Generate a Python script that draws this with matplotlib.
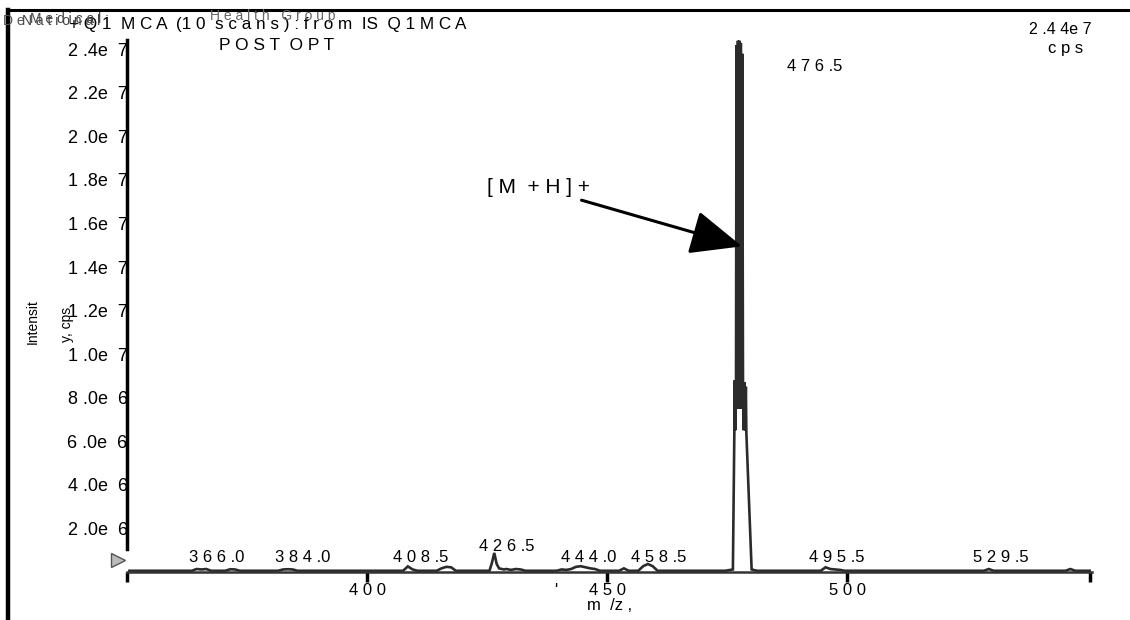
import matplotlib
matplotlib.use("Agg")
import matplotlib.pyplot as plt
from matplotlib.lines import Line2D

plt.rcParams["font.family"] = ["Liberation Sans", "DejaVu Sans"]

# spectrum trace (m/z, intensity in units of 1e6 cps)
mz = [350.5, 363.5, 364.5, 365.5, 366.5, 367.5, 370.5, 371.5, 372.5, 373.5,
      381.5, 382.5, 383.5, 384.5, 385.5, 407.5, 408.5, 409.5, 410.5, 414.5,
      415.5, 416.5, 417.5, 418.5, 425.5, 426.0, 426.5, 427.0, 427.5, 428.5,
      429.0, 430.0, 431.0, 432.0, 433.0, 439.5, 440.5, 441.5, 442.5, 443.5,
      444.5, 445.5, 446.5, 447.5, 448.5, 452.5, 453.5, 454.5, 456.5, 457.5,
      458.5, 459.5, 460.5,
      474.6, 476.2, 476.5, 476.6, 476.7, 476.85, 476.95, 477.1, 477.25, 477.4,
      477.55, 477.7, 477.85, 478.0, 478.15, 478.3, 478.45, 478.6, 478.75, 478.9,
      479.0, 480.1, 481.2,
      494.5, 495.5, 496.5, 497.5, 498.5, 499.5, 528.5, 529.5, 530.5, 545.5,
      546.5, 547.5, 550.5]
intensity = [0.04, 0.04, 0.12, 0.1, 0.12, 0.04, 0.04, 0.11, 0.1, 0.04,
             0.04, 0.1, 0.11, 0.1, 0.04, 0.04, 0.24, 0.1, 0.04, 0.04,
             0.15, 0.22, 0.2, 0.04, 0.04, 0.4, 0.86, 0.35, 0.15, 0.1,
             0.12, 0.08, 0.12, 0.1, 0.04, 0.04, 0.1, 0.08, 0.12, 0.22,
             0.25, 0.2, 0.15, 0.12, 0.04, 0.04, 0.15, 0.04, 0.04, 0.25,
             0.35, 0.25, 0.04,
             0.04, 0.1, 6.4, 8.8, 6.5, 8.6, 24.2, 7.5, 24.4, 7.5,
             24.4, 7.5, 24.3, 7.5, 23.8, 8.8, 6.5, 8.7, 6.5, 8.5,
             6.4, 0.1, 0.04,
             0.04, 0.2, 0.12, 0.1, 0.08, 0.04, 0.04, 0.12, 0.04, 0.04,
             0.12, 0.04, 0.04]

# peak labels
label_text = ["3 6 6 .0", "3 8 4 .0", "4 0 8 .5", "4 2 6 .5", "4 4 4 .0",
              "4 5 8 .5", "4 7 6 .5", "4 9 5 .5", "5 2 9 .5"]
label_mz = [368.6, 386.6, 411.2, 429.2, 446.2, 460.8, 493.3, 497.9, 532.1]
label_y = [0.67, 0.67, 0.67, 1.17, 0.67, 0.67, 23.2, 0.67, 0.67]

yticks = [2, 4, 6, 8, 10, 12, 14, 16, 18, 20, 22, 24]
ytick_labels = ["2 .0e  6", "4 .0e  6", "6 .0e  6", "8 .0e  6", "1 .0e  7", "1 .2e  7",
                "1 .4e  7", "1 .6e  7", "1 .8e  7", "2 .0e  7", "2 .2e  7", "2 .4e  7"]
xticks = [350, 400, 450, 500, 550.5]
xtick_labels = ["", "4 0 0", "4 5 0", "5 0 0", ""]

fig = plt.figure(figsize=(11.3, 6.2), dpi=100)
ax = fig.add_axes([127 / 1130, 0.078, 0.854, 0.857])

ax.plot(mz, [v * 1e6 for v in intensity], color="#2b2b2b", lw=1.9,
        solid_joinstyle="miter")

for t, x, y in zip(label_text, label_mz, label_y):
    ax.text(x, y * 1e6, t, ha="center", va="center", fontsize=12)

ax.annotate("[ M  + H ] +", xy=(478.1, 14.95e6), xytext=(446.5, 17.2e6),
            fontsize=15, ha="right", va="bottom",
            arrowprops=dict(arrowstyle="-|>,head_length=1.4,head_width=0.6",
                            mutation_scale=23, lw=2.2, color="black",
                            shrinkA=0, shrinkB=0))

ax.plot([348.1], [0.55e6], marker=">", ms=10, mfc="#bbbbbb", mec="#555555",
        clip_on=False)

ax.set_xlim(350, 551)
ax.set_ylim(0, 24.42e6)
ax.set_yticks([v * 1e6 for v in yticks])
ax.set_yticklabels(ytick_labels, fontsize=13)
ax.set_xticks(xticks)
ax.set_xticklabels(xtick_labels, fontsize=12)
ax.tick_params(axis="y", length=0, pad=-0.5)
ax.tick_params(axis="x", length=7, width=2.5, direction="out", pad=1)

for s in ["top", "right"]:
    ax.spines[s].set_visible(False)
ax.spines["left"].set_linewidth(2.5)
ax.spines["left"].set_bounds(1.05e6, 24.42e6)
ax.spines["bottom"].set_linewidth(1.8)
ax.spines["bottom"].set_color("#333333")

ax.text(450.6, -1.55e6, "m  /z ,", ha="center", va="center", fontsize=12)
ax.text(439.2, -0.85e6, "'", ha="center", va="center", fontsize=12)

# header texts
fig.text(69 / 1130, 1 - 25 / 620,
         "+ Q 1  M C A  (1 0  s c a n s ) : f r o m  IS  Q 1 M C A",
         fontsize=12.3, va="center")
fig.text(219 / 1130, 1 - 46 / 620, "P O S T  O P T", fontsize=12.5, va="center")
fig.text(3 / 1130, 1 - 21 / 620, "D e", fontsize=10, va="center", color="#555555")
fig.text(22 / 1130, 1 - 21 / 620, "N a t i o n a l", fontsize=10, va="center", color="#444444")
fig.text(30 / 1130, 1 - 19 / 620, "M e d i c a l :", fontsize=10, va="center", color="#444444")
fig.text(210 / 1130, 1 - 16 / 620, "H e a l t h   G r o u p", fontsize=10, va="center", color="#666666")
fig.text(1060 / 1130, 1 - 30 / 620, "2 .4 4e 7", fontsize=11.5, va="center", ha="center")
fig.text(1066 / 1130, 1 - 49 / 620, "c p s", fontsize=12, va="center", ha="center")
fig.text(33 / 1130, 1 - 322 / 620, "Intensit", fontsize=10, rotation=90, va="center", ha="center")
fig.text(67 / 1130, 1 - 324 / 620, "y, cps", fontsize=10, rotation=90, va="center", ha="center")

# page frame
fig.add_artist(Line2D([8 / 1130, 1.0], [1 - 10 / 620, 1 - 10 / 620], color="black", lw=2.2))
fig.add_artist(Line2D([8 / 1130, 8 / 1130], [0.0, 1 - 10 / 620], color="black", lw=3.2))

fig.savefig("out.png", dpi=100)
